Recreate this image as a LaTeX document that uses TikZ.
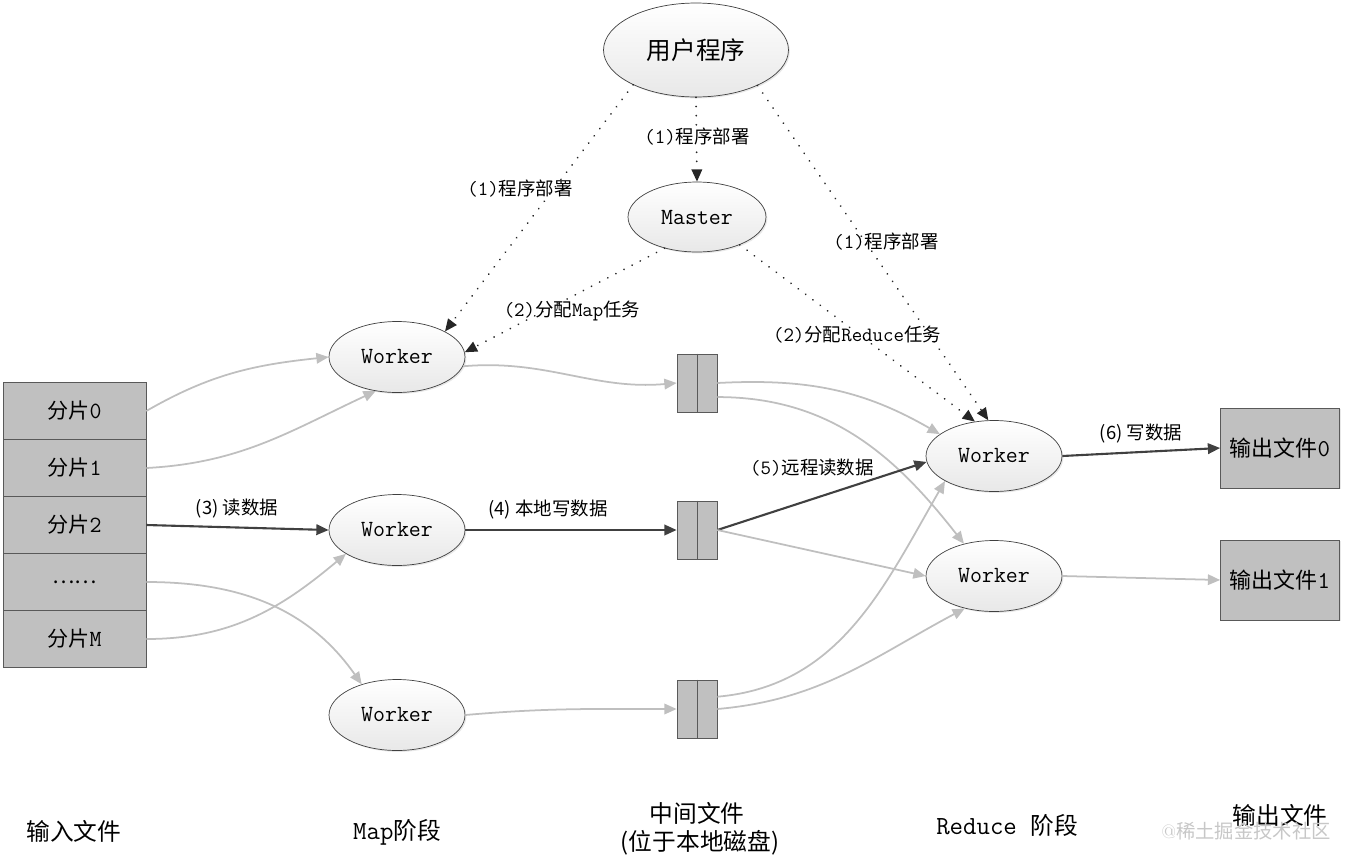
\documentclass[tikz,border=0pt]{standalone}
\usepackage{fontspec}
\usepackage{tikz}
\usetikzlibrary{shapes.geometric}
\usetikzlibrary{arrows.meta}
\usetikzlibrary{shadows}
\usepackage{xcolor}

\setmonofont{Latin Modern Mono}[Scale=1.1]
\newfontfamily\cjk{Noto Sans CJK SC}
\newcommand{\zh}[1]{{\cjk #1}}

\definecolor{filegray}{HTML}{C0C0C0}
\definecolor{linegray}{HTML}{BFBFBF}
\definecolor{linedark}{HTML}{404040}

\tikzset{
  proc/.style={ellipse, draw=black!75, top color=white, bottom color=black!9,
    drop shadow={opacity=0.18, shadow xshift=0.8pt, shadow yshift=-0.8pt},
    inner sep=0pt, font=\ttfamily\fontsize{12}{14}\selectfont},
  worker/.style={proc, minimum width=2.72cm, minimum height=1.42cm},
  slice/.style={rectangle, draw=black!65, fill=filegray, minimum width=2.86cm,
    minimum height=1.14cm, inner sep=0pt, font=\ttfamily\fontsize{12}{14}\selectfont},
  midfile/.style={rectangle, draw=black!65, fill=filegray, minimum width=0.8cm,
    minimum height=1.16cm, inner sep=0pt,
    drop shadow={opacity=0.18, shadow xshift=0.8pt, shadow yshift=-0.8pt}},
  outfile/.style={rectangle, draw=black!65, fill=filegray, minimum width=2.38cm,
    minimum height=1.6cm, inner sep=0pt, font=\ttfamily\fontsize{12.5}{14}\selectfont,
    drop shadow={opacity=0.18, shadow xshift=0.8pt, shadow yshift=-0.8pt}},
  lbl/.style={inner sep=1pt, font=\ttfamily\fontsize{10.5}{12}\selectfont},
  stage/.style={inner sep=0pt, font=\ttfamily\fontsize{13.5}{15}\selectfont},
  deploy/.style={draw=black!85, line width=1.1pt, line cap=round,
    dash pattern=on 0.01pt off 5.2pt, -{Triangle[length=7pt,width=6pt]}},
  flowgray/.style={draw=linegray, line width=1pt, -{Triangle[length=7pt,width=6pt]}},
  flowdark/.style={draw=linedark, line width=1.2pt, -{Triangle[length=7pt,width=6pt]}}
}

\begin{document}
\begin{tikzpicture}[x=0.02cm, y=-0.02cm]
        \useasboundingbox (0,0) rectangle (1350,863);

        % user program and master
        \node[proc, minimum width=3.7cm, minimum height=1.88cm,
              font=\fontsize{14}{16}\selectfont] (user) at (696,50) {\zh{用户程序}};
        \node[proc, minimum width=2.76cm, minimum height=1.4cm] (master) at (697,217) {Master};

        % input splits
        \node[slice] (s0) at (74.5,411) {\zh{分片}0};
        \node[slice] (s1) at (74.5,468) {\zh{分片}1};
        \node[slice] (s2) at (74.5,525) {\zh{分片}2};
        \node[slice] (s3) at (74.5,582) {\zh{……}};
        \node[slice] (sM) at (74.5,639) {\zh{分片}M};

        % map workers
        \node[worker] (w1) at (397,357) {Worker};
        \node[worker] (w2) at (397,530) {Worker};
        \node[worker] (w3) at (397,715) {Worker};

        % intermediate files
        \node[midfile] (b1) at (697,383) {};
        \node[midfile] (b2) at (697,530) {};
        \node[midfile] (b3) at (697,709) {};
        \draw[black!65] (b1.north) -- (b1.south);
        \draw[black!65] (b2.north) -- (b2.south);
        \draw[black!65] (b3.north) -- (b3.south);

        % reduce workers
        \node[worker] (r1) at (994,456) {Worker};
        \node[worker] (r2) at (994,576) {Worker};

        % output files
        \node[outfile] (o0) at (1280,448) {\zh{输出文件}0};
        \node[outfile] (o1) at (1280,580) {\zh{输出文件}1};

        % deployment and assignment
        \draw[deploy] (user.209) -- (w1.28);
        \draw[deploy] (user.south) -- (master.north);
        \draw[deploy] (user.330) -- (r1.99);
        \draw[deploy] (master.224) -- (w1.4);
        \draw[deploy] (master.327) -- (r1.119);

        \node[lbl] (d1) at (520,189) {(1)\zh{程序部署}};
        \node[lbl, fill=white] (d2) at (697,137) {(1)\zh{程序部署}};
        \node[lbl] (d3) at (886,242) {(1)\zh{程序部署}};
        \node[lbl] (a1) at (572,311) {(2)\zh{分配}Map\zh{任务}};
        \node[lbl] (a2) at (857,335) {(2)\zh{分配}Reduce\zh{任务}};

        % map input
        \draw[flowgray] (s0.east) to[out=30,in=186] (w1.west);
        \draw[flowgray] (s1.east) to[out=3,in=205] (w1.238);
        \draw[flowdark] (s2.east) -- (w2.west);
        \draw[flowgray] (s3.east) to[out=0,in=125] (w3.139);
        \draw[flowgray] (sM.east) to[out=0,in=220] (w2.205);
        \node[lbl] (l3) at (237,509) {\zh{(3) 读数据}};

        % map output
        \draw[flowgray] (w1.352) to[out=5,in=185] (b1.west);
        \draw[flowdark] (w2.east) -- (b2.west);
        \draw[flowgray] (w3.east) to[out=5,in=180] (b3.west);
        \node[lbl] (l4) at (548,510) {\zh{(4) 本地写数据}};

        % shuffle
        \draw[flowgray] (b1.east) to[out=3,in=150] (r1.158);
        \draw[flowgray] ([yshift=-8pt]b1.east) to[out=0,in=128] (r2.133);
        \draw[flowdark] (b2.east) -- (r1.185);
        \draw[flowgray] (b2.east) -- (r2.west);
        \draw[flowgray] ([yshift=7pt]b3.east) to[out=5,in=240] (r1.207);
        \draw[flowgray] (b3.east) to[out=5,in=208] (r2.228);
        \node[lbl] (l5) at (812,468) {(5)\zh{远程读数据}};

        % reduce output
        \draw[flowdark] (r1.east) -- (o0.west);
        \draw[flowgray] (r2.east) -- (o1.west);
        \node[lbl] (l6) at (1141,434) {\zh{(6) 写数据}};

        % stage captions
        \node[stage] (c1) at (74,831) {\zh{输入文件}};
        \node[stage] (c2) at (397,832) {Map\zh{阶段}};
        \node[stage] (c3) at (697,813) {\zh{中间文件}};
        \node[stage] (c4) at (700,843) {\zh{(位于本地磁盘)}};
        \node[stage] (c5) at (1007,825) {Reduce \zh{阶段}};
        \node[stage] (c6) at (1280,815) {\zh{输出文件}};
        \node[stage, text=black!22, font=\fontsize{11}{13}\selectfont] (wm) at (1246,831) {@\zh{稀土掘金技术社区}};

    \end{tikzpicture}
\end{document}
